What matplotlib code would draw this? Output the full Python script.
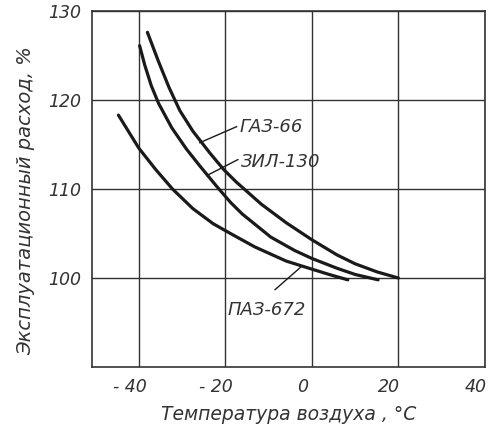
import numpy as np
import matplotlib.pyplot as plt
import matplotlib.transforms as mtransforms

# values (temperature, deg C / relative consumption, %)
gaz66_t = [-38.0, -35.5, -33.0, -30.5, -27.5, -23.5, -20.4, -17.5, -11.7, -5.9, 0.0, 5.8, 10.0, 15.0, 20.0]
gaz66_r = [127.6, 124.4, 121.4, 118.8, 116.5, 114.0, 112.2, 110.8, 108.3, 106.2, 104.3, 102.6, 101.6, 100.7, 100.0]

zil130_t = [-39.8, -38.6, -37.1, -35.4, -32.4, -29.0, -25.9, -22.0, -18.8, -16.1, -9.5, -4.0, 0.0, 5.8, 10.0, 15.3]
zil130_r = [126.1, 123.9, 121.6, 119.6, 116.9, 114.5, 112.6, 110.3, 108.5, 107.2, 104.6, 103.1, 102.2, 101.1, 100.4, 99.8]

paz672_t = [-44.7, -40.0, -36.1, -32.2, -27.5, -22.8, -18.8, -13.2, -5.9, 0.0, 4.0, 8.3]
paz672_r = [118.3, 114.6, 112.2, 110.0, 107.8, 106.1, 105.0, 103.5, 101.9, 101.0, 100.4, 99.8]

xticks = [-40, -20, 0, 20, 40]
xticklabels = ['- 40', '- 20', '0', '20', '40']
yticks = [100, 110, 120, 130]

plt.rcParams['font.family'] = ['DejaVu Sans']
plt.rcParams['font.style'] = 'italic'

fig = plt.figure(figsize=(4.94, 4.37), dpi=100)
ax = fig.add_axes([92 / 494, 0.160, 393 / 494, 0.815])

ink = '#1a1a1a'
grey = '#333333'
for t, r in [(gaz66_t, gaz66_r), (zil130_t, zil130_r), (paz672_t, paz672_r)]:
    ax.plot(t, r, color=ink, lw=2.3, solid_capstyle='round', solid_joinstyle='round')

ax.set_xlim(-50.8, 40)
ax.set_ylim(90, 130)
ax.set_xticks(xticks)
ax.set_xticklabels(xticklabels)
ax.set_yticks(yticks)
ax.grid(True, color=grey, lw=1.0)
ax.tick_params(length=0, labelsize=12.5, colors=grey, pad=8)
# labels in the scan sit a little left of their grid lines
shift = mtransforms.ScaledTranslation(-9 / 100, 0, fig.dpi_scale_trans)
for lab in ax.get_xticklabels():
    lab.set_transform(lab.get_transform() + shift)
for s in ax.spines.values():
    s.set_color(grey)
    s.set_linewidth(1.2)

# curve labels with leader lines
ax.plot([-25.9, -17.4], [115.2, 117.0], color=ink, lw=1.0)
ax.text(-16.8, 117.0, 'ГАЗ-66', fontsize=13, color=grey, va='center')
ax.plot([-24.3, -17.1], [111.5, 113.3], color=ink, lw=1.0)
ax.text(-16.4, 113.0, 'ЗИЛ-130', fontsize=13, color=grey, va='center')
ax.plot([-2.4, -8.5], [101.3, 98.7], color=ink, lw=1.0)
ax.text(-19.6, 96.4, 'ПАЗ-672', fontsize=13, color=grey, va='center')

ax.set_xlabel('Температура воздуха , °C', fontsize=13.5, color=grey, labelpad=6)
ax.set_ylabel('Эксплуатационный расход, %', fontsize=14, color=grey)
ax.yaxis.set_label_coords(-0.145, 0.466)

fig.savefig('out.png', dpi=100)
